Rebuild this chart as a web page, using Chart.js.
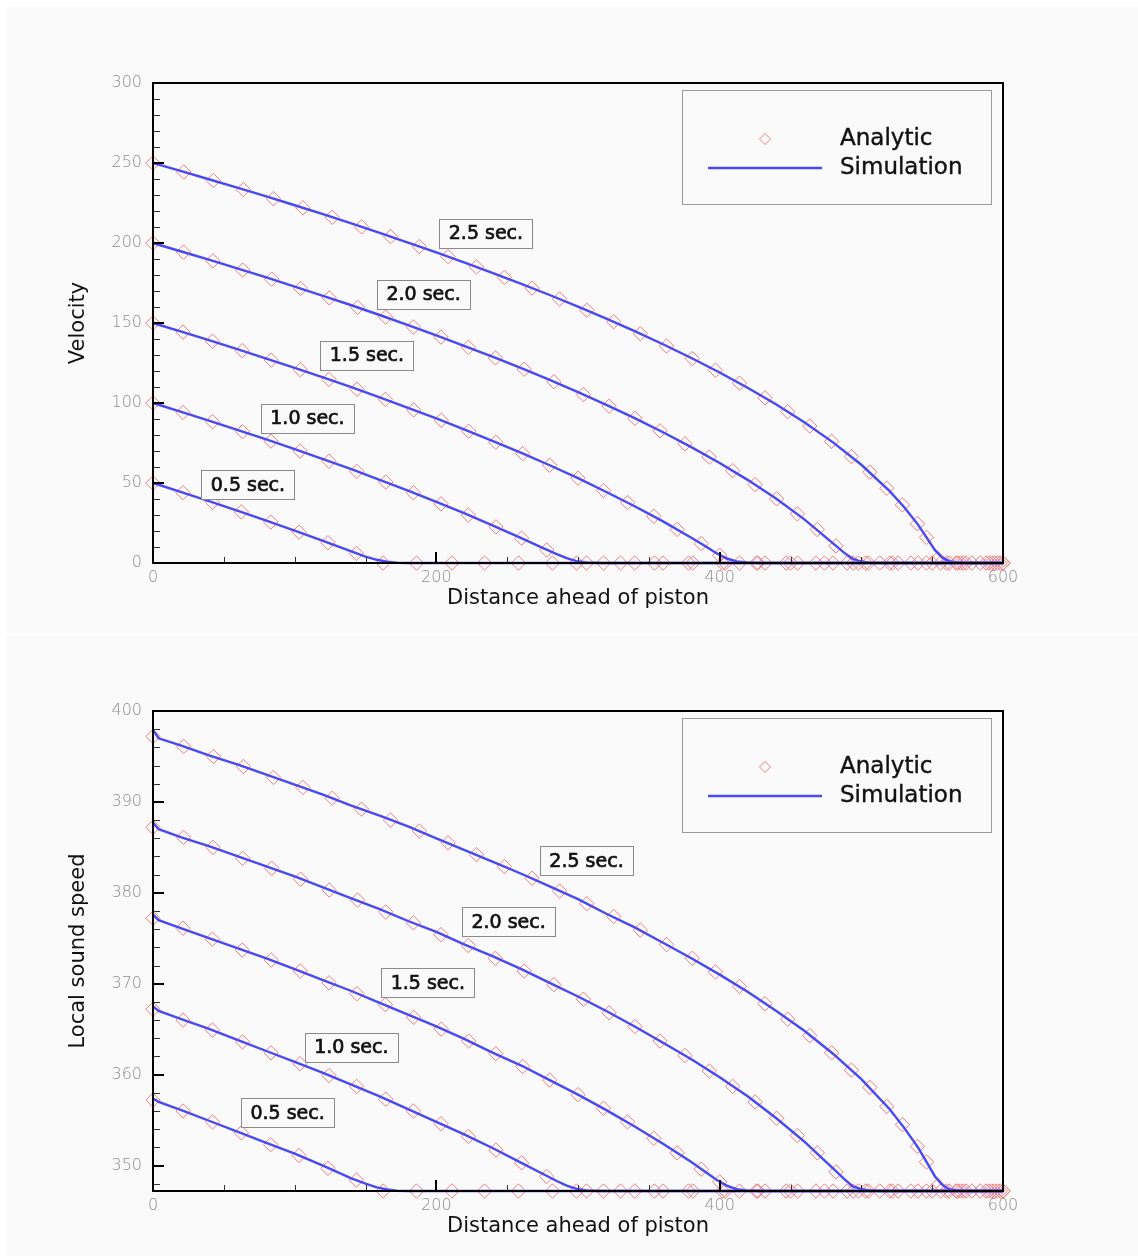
<!DOCTYPE html>
<html>
<head>
<meta charset="utf-8">
<script src="https://cdn.jsdelivr.net/npm/chart.js@4.4.1/dist/chart.umd.min.js"></script>
<style>
  body { margin: 0; background: #fff; width: 1138px; height: 1256px; position: relative; overflow: hidden; }
  .panel { position: absolute; left: 6px; width: 1132px; background: #fafafa; }
  #p1 { top: 7px; height: 626px; }
  #p2 { top: 635px; height: 621px; }
  canvas { display: block; }
</style>
</head>
<body>
<div class="panel" id="p1"><canvas id="velChart" width="1132" height="626"></canvas></div>
<div class="panel" id="p2"><canvas id="sndChart" width="1132" height="621"></canvas></div>
<script>
// axis ticks
var distanceTicks = [0, 200, 400, 600];
var velocityTicks = [0, 50, 100, 150, 200, 250, 300];
var soundTicks = [350, 360, 370, 380, 390, 400];
var timeLabels = ['0.5 sec.', '1.0 sec.', '1.5 sec.', '2.0 sec.', '2.5 sec.'];

// analytic solution, sampled points (distance, velocity, sound speed)
var xA05 = [0, 21.2, 42, 62.4, 83.1, 103.1, 123.5, 143.6, 162.4, 186, 211, 234, 258, 282, 306, 330, 354, 378, 402, 426, 450, 474, 498, 522, 546, 570, 594];
var uA05 = [50, 44.0, 37.9, 31.9, 25.6, 19.3, 12.7, 6.0, 0, 0, 0, 0, 0, 0, 0, 0, 0, 0, 0, 0, 0, 0, 0, 0, 0, 0, 0];
var cA05 = [357.2, 356.0, 354.8, 353.6, 352.3, 351.1, 349.7, 348.4, 347.2, 347.2, 347.2, 347.2, 347.2, 347.2, 347.2, 347.2, 347.2, 347.2, 347.2, 347.2, 347.2, 347.2, 347.2, 347.2, 347.2, 347.2, 347.2];

var xA10 = [0, 21.2, 42, 63.2, 83.3, 103.8, 124.2, 143.8, 164.3, 183.8, 203.3, 222.6, 242.1, 260.2, 277.9, 299, 318, 340, 360, 381, 404, 427, 447, 468, 490, 513, 535, 556, 578, 598];
var uA10 = [100, 94.1, 88.3, 82.1, 76.2, 70.0, 63.6, 57.3, 50.6, 43.9, 37.0, 30.0, 22.6, 15.5, 8.2, 0, 0, 0, 0, 0, 0, 0, 0, 0, 0, 0, 0, 0, 0, 0];
var cA10 = [367.2, 366.0, 364.9, 363.6, 362.4, 361.2, 359.9, 358.7, 357.3, 356.0, 354.6, 353.2, 351.7, 350.3, 348.8, 347.2, 347.2, 347.2, 347.2, 347.2, 347.2, 347.2, 347.2, 347.2, 347.2, 347.2, 347.2, 347.2, 347.2, 347.2];

var xA15 = [0, 21.2, 42, 63, 83.5, 104, 124.2, 144, 164, 184, 203.5, 222.8, 242, 261, 280, 300, 318, 335, 353.5, 370, 387, 400, 414, 432, 455, 480, 503, 526, 550, 568, 588, 600];
var uA15 = [150, 144.3, 138.6, 132.7, 126.8, 120.8, 114.7, 108.6, 102.3, 95.7, 89.2, 82.4, 75.5, 68.4, 61.1, 53.0, 45.3, 37.8, 29.2, 21.0, 12.1, 4.8, 0, 0, 0, 0, 0, 0, 0, 0, 0, 0];
var cA15 = [377.2, 376.1, 374.9, 373.7, 372.6, 371.4, 370.1, 368.9, 367.7, 366.3, 365.0, 363.7, 362.3, 360.9, 359.4, 357.8, 356.3, 354.8, 353.0, 351.4, 349.6, 348.2, 347.2, 347.2, 347.2, 347.2, 347.2, 347.2, 347.2, 347.2, 347.2, 347.2];

var xA20 = [0, 21.5, 42.3, 63.3, 83.8, 104.2, 124.4, 144.4, 164.2, 183.8, 203.3, 222.6, 241.7, 262, 283, 303.8, 322, 340.2, 357.9, 375.5, 392.7, 409.2, 425, 440.2, 454.8, 468.9, 482.1, 494.3, 505, 520, 540, 560, 574, 592];
var uA20 = [200, 194.3, 188.8, 183.1, 177.4, 171.6, 165.7, 159.8, 153.7, 147.5, 141.2, 134.8, 128.2, 121.1, 113.3, 105.3, 98.0, 90.4, 82.6, 74.5, 66.2, 57.7, 49.0, 40.1, 30.7, 20.9, 10.7, 0, 0, 0, 0, 0, 0, 0];
var cA20 = [387.2, 386.1, 385.0, 383.8, 382.7, 381.5, 380.3, 379.2, 377.9, 376.7, 375.4, 374.2, 372.8, 371.4, 369.9, 368.3, 366.8, 365.3, 363.7, 362.1, 360.4, 358.7, 357.0, 355.2, 353.3, 351.4, 349.3, 347.2, 347.2, 347.2, 347.2, 347.2, 347.2, 347.2];

var xA25 = [0, 21.7, 42.6, 63.8, 85, 105.8, 126.5, 147.2, 167.7, 188, 208.3, 228.3, 248, 267.6, 287, 306.2, 325.2, 344, 362.5, 380.7, 397, 414, 432, 448, 463.6, 479, 493, 506, 518, 529, 539.6, 546, 554, 562, 567, 572, 584, 590, 596, 600];
var uA25 = [250, 244.4, 239.0, 233.4, 227.7, 222.0, 216.1, 210.1, 204.0, 197.8, 191.5, 185.0, 178.5, 171.8, 165.0, 158.0, 150.8, 143.3, 135.6, 127.8, 120.5, 112.4, 103.2, 94.6, 85.6, 76.0, 66.5, 56.8, 46.7, 36.3, 24.5, 16.0, 2.8, 0, 0, 0, 0, 0, 0, 0];
var cA25 = [397.2, 396.1, 395.0, 393.9, 392.7, 391.6, 390.4, 389.2, 388.0, 386.8, 385.5, 384.2, 382.9, 381.6, 380.2, 378.8, 377.4, 375.9, 374.3, 372.8, 371.3, 369.7, 367.8, 366.1, 364.3, 362.4, 360.5, 358.6, 356.5, 354.5, 352.1, 350.4, 347.8, 347.2, 347.2, 347.2, 347.2, 347.2, 347.2, 347.2];

// simulation profiles
var xS05 = [0, 4, 20, 40, 60, 80, 100, 120, 140, 150, 158, 165, 172, 180, 600];
var uS05 = [50, 48.9, 44.3, 38.5, 32.6, 26.5, 20.3, 13.8, 7.2, 4.0, 2.0, 0.8, 0.15, 0, 0];
var cS05 = [357.4, 357.0, 356.1, 354.9, 353.7, 352.5, 351.3, 350.0, 348.6, 348.0, 347.6, 347.36, 347.23, 347.2, 347.2];

var xS10 = [0, 4, 20, 40, 60, 80, 100, 120, 140, 160, 180, 200, 220, 240, 260, 275, 285, 292, 299, 306, 315, 600];
var uS10 = [100, 98.9, 94.4, 88.8, 83.1, 77.2, 71.2, 64.9, 58.6, 52.0, 45.2, 38.2, 31.0, 23.4, 15.6, 9.5, 5.6, 3.0, 1.2, 0.3, 0, 0];
var cS10 = [367.5, 367.0, 366.1, 365.0, 363.8, 362.6, 361.4, 360.2, 358.9, 357.6, 356.2, 354.8, 353.4, 351.9, 350.3, 349.1, 348.3, 347.8, 347.44, 347.26, 347.2, 347.2];

var xS15 = [0, 4, 20, 40, 60, 80, 100, 120, 140, 160, 180, 200, 220, 240, 260, 280, 300, 320, 340, 360, 380, 390, 398, 405, 412, 419, 428, 600];
var uS15 = [150, 148.9, 144.6, 139.2, 133.5, 127.8, 122.0, 116.0, 109.9, 103.5, 97.0, 90.4, 83.4, 76.2, 68.8, 61.1, 53.0, 44.4, 35.5, 26.0, 15.8, 10.5, 6.0, 2.8, 1.0, 0.3, 0, 0];
var cS15 = [377.6, 377.0, 376.1, 375.0, 373.9, 372.8, 371.6, 370.4, 369.2, 367.9, 366.6, 365.3, 363.9, 362.4, 361.0, 359.4, 357.8, 356.1, 354.3, 352.4, 350.4, 349.3, 348.4, 347.8, 347.4, 347.26, 347.2, 347.2];

var xS20 = [0, 4, 20, 40, 60, 80, 100, 120, 140, 160, 180, 200, 220, 240, 260, 280, 300, 320, 340, 360, 380, 400, 420, 440, 460, 480, 488, 494, 500, 506, 514, 600];
var uS20 = [200, 198.9, 194.7, 189.5, 184.0, 178.5, 172.8, 167.0, 161.1, 155.0, 148.7, 142.3, 135.6, 128.8, 121.8, 114.4, 106.8, 98.8, 90.5, 81.7, 72.4, 62.5, 51.8, 40.2, 27.1, 12.3, 6.3, 2.6, 0.9, 0.25, 0, 0];
var cS20 = [387.7, 387.0, 386.1, 385.1, 384.0, 382.9, 381.8, 380.6, 379.4, 378.2, 376.9, 375.7, 374.3, 373.0, 371.6, 370.1, 368.6, 367.0, 365.3, 363.5, 361.7, 359.7, 357.6, 355.2, 352.6, 349.7, 348.5, 347.7, 347.4, 347.25, 347.2, 347.2];

var xS25 = [0, 4, 20, 40, 60, 80, 100, 120, 140, 160, 180, 200, 220, 240, 260, 280, 300, 320, 340, 360, 380, 400, 420, 440, 460, 480, 500, 520, 530, 540, 546, 552, 557, 562, 567, 574, 600];
var uS25 = [250, 249.0, 244.9, 239.7, 234.4, 229.1, 223.6, 218.0, 212.2, 206.3, 200.3, 194.1, 187.7, 181.2, 174.4, 167.5, 160.3, 152.7, 144.9, 136.7, 128.1, 119.1, 109.4, 99.1, 87.8, 75.4, 61.4, 44.9, 35.2, 24.0, 16.0, 8.0, 3.5, 1.2, 0.3, 0, 0];
var cS25 = [397.9, 397.0, 396.2, 395.1, 394.1, 393.0, 391.9, 390.8, 389.6, 388.5, 387.3, 386.0, 384.7, 383.4, 382.1, 380.7, 379.3, 377.7, 376.2, 374.5, 372.8, 371.0, 369.1, 367.0, 364.8, 362.3, 359.5, 356.2, 354.2, 352.0, 350.4, 348.8, 347.9, 347.4, 347.26, 347.2, 347.2];


var FONT = 'DejaVu Sans';
var DIAMOND = '#ef7c7c';
var LINE = '#4848f4';

function pairs(xs, ys) {
    return xs.map(function (x, i) { return { x: x, y: ys[i] }; });
}

function analytic(xs, ys) {
    return {
        label: 'Analytic',
        data: pairs(xs, ys),
        showLine: false,
        pointStyle: 'rectRot',
        pointRadius: 7.2,
        borderColor: DIAMOND,
        backgroundColor: 'rgba(0,0,0,0)',
        pointBorderWidth: 1,
        clip: false,
        order: 2
    };
}

function simulation(xs, ys) {
    return {
        label: 'Simulation',
        data: pairs(xs, ys),
        showLine: true,
        pointRadius: 0,
        borderColor: LINE,
        borderWidth: 2.4,
        tension: 0,
        clip: false,
        order: 1
    };
}

// box frame, inward ticks, time labels and legend
var framePlugin = {
    id: 'frame',
    afterDatasetsDraw: function (chart, args, opts) {
        var ctx = chart.ctx;
        var a = chart.chartArea;
        var xs = chart.scales.x, ys = chart.scales.y;
        var v, p;
        ctx.save();

        // time labels
        ctx.font = '19px "' + FONT + '"';
        ctx.textAlign = 'center';
        ctx.textBaseline = 'middle';
        opts.labels.forEach(function (l) {
            var cx = xs.getPixelForValue(l.x), cy = ys.getPixelForValue(l.y);
            ctx.fillStyle = '#fafafa';
            ctx.fillRect(cx - 46.5, cy - 14.5, 93, 29);
            ctx.strokeStyle = '#8a8a8a';
            ctx.lineWidth = 1;
            ctx.strokeRect(Math.round(cx - 46.5) + 0.5, Math.round(cy - 14.5) + 0.5, 93, 29);
            ctx.fillStyle = '#111';
            ctx.strokeStyle = '#111';
            ctx.lineWidth = 0.7;
            ctx.fillText(l.text, cx, cy + 1);
            ctx.strokeText(l.text, cx, cy + 1);
        });

        // minor ticks
        ctx.strokeStyle = '#333';
        ctx.lineWidth = 1;
        ctx.beginPath();
        for (v = opts.minorX; v < xs.max; v += opts.minorX) {
            if (distanceTicks.indexOf(v) >= 0) continue;
            p = Math.round(xs.getPixelForValue(v)) + 0.5;
            ctx.moveTo(p, a.bottom); ctx.lineTo(p, a.bottom - 6);
        }
        for (v = opts.minorStart; v < ys.max; v += opts.minorY) {
            v = Math.round(v * 100) / 100;
            if (opts.yTicks.indexOf(v) >= 0) continue;
            p = Math.round(ys.getPixelForValue(v)) + 0.5;
            ctx.moveTo(a.left, p); ctx.lineTo(a.left + 7, p);
        }
        ctx.stroke();

        // major ticks
        ctx.strokeStyle = '#000';
        ctx.lineWidth = 2;
        ctx.beginPath();
        distanceTicks.forEach(function (t) {
            p = Math.round(xs.getPixelForValue(t));
            ctx.moveTo(p, a.bottom); ctx.lineTo(p, a.bottom - 11);
        });
        opts.yTicks.forEach(function (t) {
            p = Math.round(ys.getPixelForValue(t));
            ctx.moveTo(a.left, p); ctx.lineTo(a.left + 11, p);
        });
        ctx.stroke();

        // frame
        ctx.lineWidth = 2;
        ctx.strokeStyle = '#000';
        ctx.strokeRect(a.left, a.top, a.right - a.left, a.bottom - a.top);

        // legend
        var lx = a.left + 529, ly = a.top + 7;
        ctx.strokeStyle = '#9a9a9a';
        ctx.lineWidth = 1;
        ctx.strokeRect(lx + 0.5, ly + 0.5, 309, 114);
        ctx.strokeStyle = DIAMOND;
        ctx.beginPath();
        ctx.moveTo(lx + 83 - 5.5, ly + 49);
        ctx.lineTo(lx + 83, ly + 49 - 5.5);
        ctx.lineTo(lx + 83 + 5.5, ly + 49);
        ctx.lineTo(lx + 83, ly + 49 + 5.5);
        ctx.closePath();
        ctx.stroke();
        ctx.strokeStyle = LINE;
        ctx.lineWidth = 2.4;
        ctx.beginPath();
        ctx.moveTo(lx + 26, ly + 78);
        ctx.lineTo(lx + 140, ly + 78);
        ctx.stroke();
        ctx.fillStyle = '#111';
        ctx.strokeStyle = '#111';
        ctx.lineWidth = 0.4;
        ctx.font = '23px "' + FONT + '"';
        ctx.textAlign = 'left';
        ctx.fillText('Analytic', lx + 158, ly + 49);
        ctx.fillText('Simulation', lx + 158, ly + 78);
        ctx.strokeText('Analytic', lx + 158, ly + 49);
        ctx.strokeText('Simulation', lx + 158, ly + 78);

        ctx.restore();
    }
};

function makeChart(id, datasets, yMin, yMax, yTicks, yTitle, minorY, minorStart, labels, xHeight) {
    return new Chart(document.getElementById(id), {
        type: 'scatter',
        data: { datasets: datasets },
        plugins: [framePlugin],
        options: {
            responsive: false,
            animation: false,
            events: [],
            layout: { padding: { left: 0, top: 76, right: 135, bottom: 0 } },
            plugins: {
                legend: { display: false },
                tooltip: { enabled: false },
                frame: {
                    minorX: 50,
                    minorY: minorY,
                    minorStart: minorStart,
                    yTicks: yTicks,
                    labels: labels
                }
            },
            scales: {
                x: {
                    type: 'linear',
                    min: 0,
                    max: 600,
                    afterBuildTicks: function (s) {
                        s.ticks = distanceTicks.map(function (t) { return { value: t }; });
                    },
                    afterFit: function (s) { s.height = xHeight; },
                    grid: { display: false, drawTicks: false },
                    border: { display: false },
                    ticks: {
                        autoSkip: false,
                        maxRotation: 0,
                        padding: 5,
                        color: '#8c8c8c',
                        font: { family: FONT, size: 16, weight: '200' }
                    },
                    title: {
                        display: true,
                        text: 'Distance ahead of piston',
                        color: '#111',
                        font: { family: FONT, size: 21 },
                        padding: { top: 0, bottom: xHeight - 48 }
                    }
                },
                y: {
                    type: 'linear',
                    min: yMin,
                    max: yMax,
                    afterBuildTicks: function (s) {
                        s.ticks = yTicks.map(function (t) { return { value: t }; });
                    },
                    afterFit: function (s) { s.width = 147; },
                    grid: { display: false, drawTicks: false },
                    border: { display: false },
                    ticks: {
                        autoSkip: false,
                        padding: 11,
                        color: '#8c8c8c',
                        font: { family: FONT, size: 16, weight: '200' }
                    },
                    title: {
                        display: true,
                        text: yTitle,
                        color: '#111',
                        font: { family: FONT, size: 21 },
                        padding: { top: 60, bottom: 0 }
                    }
                }
            }
        }
    });
}

makeChart('velChart', [
    simulation(xS05, uS05), simulation(xS10, uS10), simulation(xS15, uS15),
    simulation(xS20, uS20), simulation(xS25, uS25),
    analytic(xA05, uA05), analytic(xA10, uA10), analytic(xA15, uA15),
    analytic(xA20, uA20), analytic(xA25, uA25)
], 0, 300, velocityTicks, 'Velocity', 10, 10, [
    { x: 67, y: 48.8, text: timeLabels[0] },
    { x: 109, y: 90.6, text: timeLabels[1] },
    { x: 151, y: 130, text: timeLabels[2] },
    { x: 191, y: 168, text: timeLabels[3] },
    { x: 235, y: 206, text: timeLabels[4] }
], 70);

makeChart('sndChart', [
    simulation(xS05, cS05), simulation(xS10, cS10), simulation(xS15, cS15),
    simulation(xS20, cS20), simulation(xS25, cS25),
    analytic(xA05, cA05), analytic(xA10, cA10), analytic(xA15, cA15),
    analytic(xA20, cA20), analytic(xA25, cA25)
], 347.2, 400, soundTicks, 'Local sound speed', 2, 348, [
    { x: 95, y: 355.8, text: timeLabels[0] },
    { x: 140, y: 363.0, text: timeLabels[1] },
    { x: 194, y: 370.1, text: timeLabels[2] },
    { x: 251, y: 376.8, text: timeLabels[3] },
    { x: 306, y: 383.5, text: timeLabels[4] }
], 65);
</script>
</body>
</html>
